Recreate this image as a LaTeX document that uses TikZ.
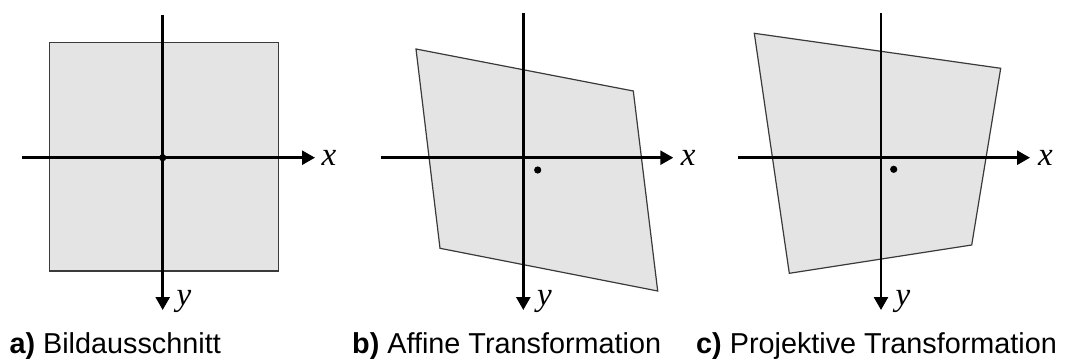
\documentclass[tikz,border=0pt]{standalone}
\usepackage{fontspec}
\setmainfont{Liberation Sans}
\newfontfamily\tms{Liberation Serif}
\usetikzlibrary{arrows.meta}
\definecolor{areafill}{HTML}{E4E4E4}
\definecolor{areaedge}{HTML}{3A3A3A}
\tikzset{
  area/.style={fill=areafill,draw=areaedge,line width=1.2pt,line join=miter},
  axis/.style={line width=2.6pt,-{Triangle[length=13pt,width=14pt]}},
  axlabel/.style={font=\tms\itshape\fontsize{33}{36}\selectfont,inner sep=0pt,anchor=base west},
  caption/.style={font=\fontsize{28.8}{34}\selectfont,inner sep=0pt,anchor=base west},
  centerdot/.style={fill=black,draw=none}
}
\begin{document}
\begin{tikzpicture}[x=1pt,y=-1pt]
\useasboundingbox (0,0) rectangle (1071,361);
% ---------- a) ----------
\coordinate (a1) at (49.3,42.3);
\coordinate (a2) at (278.3,42.3);
\coordinate (a3) at (278.3,271);
\coordinate (a4) at (49.3,271);
\filldraw[area] (a1) -- (a2) -- (a3) -- (a4) -- cycle;
\coordinate (a-xl) at (22.3,157.7);
\coordinate (a-xr) at (315,157.7);
\coordinate (a-yt) at (162.7,15);
\coordinate (a-yb) at (162.7,310);
\draw[axis] (a-xl) -- (a-xr);
\draw[axis] (a-yt) -- (a-yb);
\fill[centerdot] (162.7,157.7) circle (3.6);
\node[axlabel] (a-x) at (321.5,165) {x};
\node[axlabel] (a-y) at (176.5,305) {y};
\node[caption] (a-cap) at (9.3,353) {\textbf{a)} Bildausschnitt};
% ---------- b) ----------
\coordinate (b1) at (416,49);
\coordinate (b2) at (633.3,91);
\coordinate (b3) at (657.7,291);
\coordinate (b4) at (440,248.3);
\filldraw[area] (b1) -- (b2) -- (b3) -- (b4) -- cycle;
\coordinate (b-xl) at (380.7,157.7);
\coordinate (b-xr) at (673.3,157.7);
\coordinate (b-yt) at (523.3,13.3);
\coordinate (b-yb) at (523.3,310);
\draw[axis] (b-xl) -- (b-xr);
\draw[axis] (b-yt) -- (b-yb);
\fill[centerdot] (537.7,170) circle (3.6);
\node[axlabel] (b-x) at (680.7,165) {x};
\node[axlabel] (b-y) at (537,305) {y};
\node[caption] (b-cap) at (352,353) {\textbf{b)} Affine Transformation};
% ---------- c) ----------
\coordinate (c1) at (754.3,33.3);
\coordinate (c2) at (1000.7,68.3);
\coordinate (c3) at (971.7,245);
\coordinate (c4) at (789.3,273.3);
\filldraw[area] (c1) -- (c2) -- (c3) -- (c4) -- cycle;
\coordinate (c-xl) at (738.3,157.7);
\coordinate (c-xr) at (1030,157.7);
\coordinate (c-yt) at (881,13.3);
\coordinate (c-yb) at (881,310);
\draw[axis] (c-xl) -- (c-xr);
\draw[axis] (c-yt) -- (c-yb);
\fill[centerdot] (893.7,169.3) circle (3.6);
\node[axlabel] (c-x) at (1038,165) {x};
\node[axlabel] (c-y) at (895.5,305) {y};
\node[caption] (c-cap) at (696,353) {\textbf{c)} Projektive Transformation};
\end{tikzpicture}
\end{document}
